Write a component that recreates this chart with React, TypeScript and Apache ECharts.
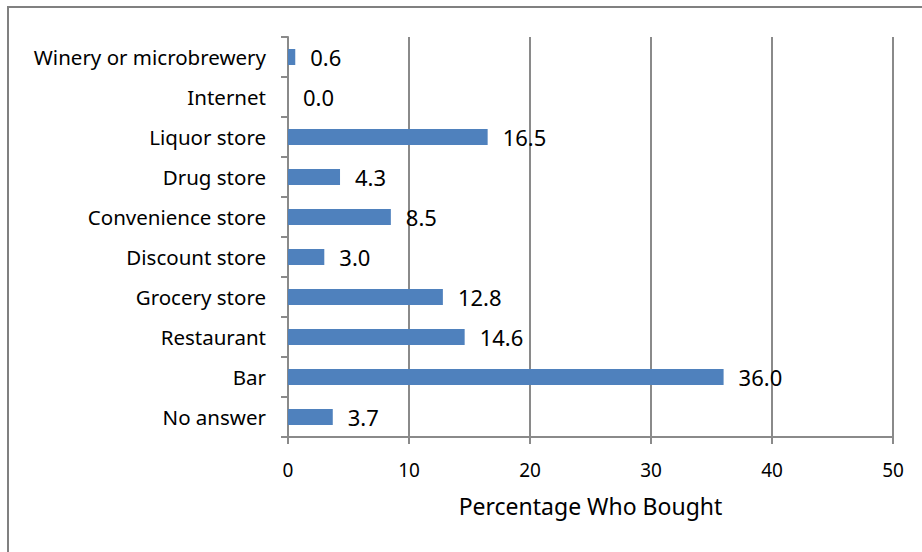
import React, { useEffect, useRef } from "react";
import * as echarts from "echarts";

const categories = [
  "No answer",
  "Bar",
  "Restaurant",
  "Grocery store",
  "Discount store",
  "Convenience store",
  "Drug store",
  "Liquor store",
  "Internet",
  "Winery or microbrewery",
];
const values = [3.7, 36.0, 14.6, 12.8, 3.0, 8.5, 4.3, 16.5, 0.0, 0.6];
const axisTitle = "Percentage Who Bought";

const FONT = "'Noto Sans', 'Open Sans', sans-serif";
const GRAY = "#8a8a8a";

export default function App() {
  const ref = useRef<HTMLDivElement>(null);
  useEffect(() => {
    if (!ref.current) return;
    const chart = echarts.init(ref.current, undefined, { renderer: "svg" });
    chart.setOption({
      animation: false,
      backgroundColor: "#ffffff",
      textStyle: { fontFamily: FONT, color: "#000" },
      graphic: [
        {
          type: "rect",
          shape: { x: 8, y: 7, width: 930, height: 560 },
          style: { fill: "none", stroke: "#808080", lineWidth: 2 },
          silent: true,
        },
      ],
      grid: { left: 288, top: 37, width: 605, height: 400, containLabel: false },
      xAxis: {
        type: "value",
        min: 0,
        max: 50,
        interval: 10,
        name: axisTitle,
        nameLocation: "middle",
        nameGap: 57,
        nameTextStyle: { fontFamily: FONT, fontSize: 23, color: "#000" },
        axisLine: { show: true, lineStyle: { color: GRAY, width: 2 } },
        axisTick: { show: true, length: 7, lineStyle: { color: GRAY, width: 2 } },
        axisLabel: { fontFamily: FONT, fontSize: 19, color: "#000", margin: 23 },
        splitLine: { show: true, lineStyle: { color: GRAY, width: 2 } },
      },
      yAxis: {
        type: "category",
        data: categories,
        axisLine: { show: true, lineStyle: { color: GRAY, width: 2 } },
        axisTick: { show: true, length: 7, lineStyle: { color: GRAY, width: 2 } },
        axisLabel: { fontFamily: FONT, fontSize: 20.5, color: "#000", margin: 22 },
        splitLine: { show: false },
      },
      series: [
        {
          type: "bar",
          data: values,
          barWidth: 16,
          itemStyle: { color: "#4F81BD" },
          label: {
            show: true,
            position: "right",
            distance: 15,
            fontFamily: FONT,
            fontSize: 22,
            color: "#000",
            formatter: (p: any) => Number(p.value).toFixed(1),
          },
        },
      ],
    });
    return () => chart.dispose();
  }, []);
  return (
    <div
      ref={ref}
      style={{ position: "fixed", left: 0, top: 0, width: 922, height: 552 }}
    />
  );
}
